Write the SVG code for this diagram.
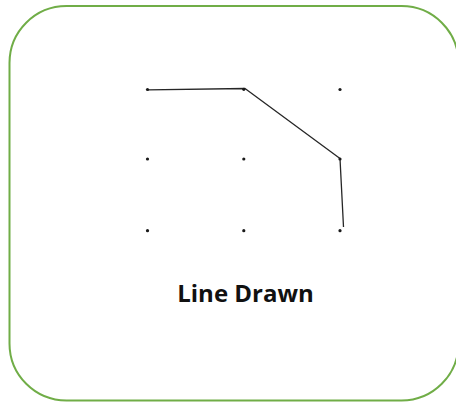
<svg xmlns="http://www.w3.org/2000/svg" width="456" height="405" viewBox="0 0 456 405">
  <style>
    .frame { fill: #ffffff; stroke: #70AD47; stroke-width: 2; }
    .dot { fill: #1a1a1a; }
    .path { fill: none; stroke: #262626; stroke-width: 1.3; stroke-linejoin: round; }
    .label { font-family: "Open Sans", "Liberation Sans", sans-serif; font-weight: bold; font-size: 24px; fill: #111111; text-anchor: middle; }
  </style>
  <rect width="456" height="405" fill="#ffffff"/>
  <g id="frame">
    <rect class="frame" x="9.5" y="6" width="449" height="394.5" rx="57" ry="57"/>
  </g>
  <g id="connectors">
    <polyline class="path" points="148,89.8 245,88.5 340,158.5 343.5,227"/>
  </g>
  <g id="dots">
    <circle id="d1" class="dot" cx="147.5" cy="89.5" r="1.6"/>
    <circle id="d2" class="dot" cx="243.8" cy="89.3" r="1.6"/>
    <circle id="d3" class="dot" cx="340" cy="89.5" r="1.6"/>
    <circle id="d4" class="dot" cx="147.5" cy="159" r="1.6"/>
    <circle id="d5" class="dot" cx="243.8" cy="159" r="1.6"/>
    <circle id="d6" class="dot" cx="340" cy="159" r="1.6"/>
    <circle id="d7" class="dot" cx="147.5" cy="230.7" r="1.6"/>
    <circle id="d8" class="dot" cx="243.8" cy="230.7" r="1.6"/>
    <circle id="d9" class="dot" cx="340" cy="230.7" r="1.6"/>
  </g>
  <g id="caption">
    <text class="label" x="245.5" y="302">Line Drawn</text>
  </g>
</svg>
